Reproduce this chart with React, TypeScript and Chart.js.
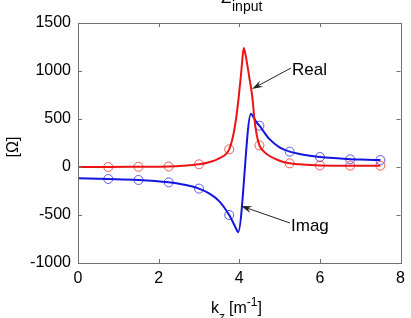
import React, { useEffect, useRef } from "react";
import { Chart, registerables } from "chart.js";

Chart.register(...registerables);

// Wavenumber samples for the smooth curves
const realX = [0, 0.75, 1.5, 2.25, 2.6, 3.0, 3.25, 3.5, 3.75, 3.85, 3.92, 3.98, 4.04, 4.07, 4.11, 4.15, 4.19, 4.25, 4.29, 4.33, 4.37, 4.43, 4.5, 4.6, 4.73, 5.0, 5.25, 5.5, 6.0, 6.75, 7.5];
const realY = [0, 0, 2, 5, 12, 28, 50, 90, 184, 330, 500, 705, 950, 1090, 1240, 1180, 1087, 930, 828, 705, 520, 340, 225, 165, 120, 65, 38, 28, 16, 14, 14];

const imagX = [0, 0.75, 1.5, 2.25, 2.6, 3.0, 3.25, 3.5, 3.75, 3.85, 3.92, 3.97, 4.29, 4.35, 4.42, 4.5, 4.75, 5.0, 5.25, 5.5, 5.75, 6.0, 6.5, 6.75, 7.0, 7.5];
const imagY = [-118, -125, -135, -160, -182, -225, -275, -355, -500, -580, -640, -680, 555, 520, 470, 430, 290, 205, 160, 135, 118, 104, 88, 80, 77, 72];

// Sampled points shown as open circles
const markerX = [0.75, 1.5, 2.25, 3.0, 3.75, 4.5, 5.25, 6.0, 6.75, 7.5];
const realMarkers = [0, 2, 5, 28, 184, 225, 38, 16, 14, 14];
const imagMarkers = [-125, -135, -160, -225, -500, 430, 160, 104, 80, 72];

const xTicks = [0, 2, 4, 6, 8];
const yTicks = [-1000, -500, 0, 500, 1000, 1500];

const FONT = "'Liberation Sans', Arial, sans-serif";
const RED = "rgb(235,20,20)";
const BLUE = "rgb(20,20,225)";
const AXIS = "#707070";

const pairs = (xs: number[], ys: number[]) => xs.map((x, i) => ({ x, y: ys[i] }));

function arrow(ctx: CanvasRenderingContext2D, x1: number, y1: number, x2: number, y2: number) {
  const ang = Math.atan2(y2 - y1, x2 - x1);
  const len = 11;
  const half = 3.5;
  ctx.save();
  ctx.strokeStyle = "#222";
  ctx.fillStyle = "#222";
  ctx.lineWidth = 1;
  ctx.beginPath();
  ctx.moveTo(x1, y1);
  ctx.lineTo(x2 - Math.cos(ang) * 6, y2 - Math.sin(ang) * 6);
  ctx.stroke();
  const bx = x2 - Math.cos(ang) * len;
  const by = y2 - Math.sin(ang) * len;
  const nx = -Math.sin(ang) * half;
  const ny = Math.cos(ang) * half;
  ctx.beginPath();
  ctx.moveTo(x2, y2);
  ctx.lineTo(bx + nx, by + ny);
  ctx.lineTo(x2 - Math.cos(ang) * 7, y2 - Math.sin(ang) * 7);
  ctx.lineTo(bx - nx, by - ny);
  ctx.closePath();
  ctx.fill();
  ctx.restore();
}

const decor = {
  id: "decor",
  afterDatasetsDraw(chart: any) {
    const { ctx, chartArea: a, scales } = chart;
    const xs = scales.x;
    const ys = scales.y;
    ctx.save();
    // axes box with inward ticks
    ctx.strokeStyle = AXIS;
    ctx.lineWidth = 1;
    ctx.strokeRect(Math.round(a.left) + 0.5, Math.round(a.top) + 0.5, Math.round(a.right - a.left), Math.round(a.bottom - a.top));
    ctx.beginPath();
    xTicks.forEach((t) => {
      const px = Math.round(xs.getPixelForValue(t)) + 0.5;
      ctx.moveTo(px, a.bottom);
      ctx.lineTo(px, a.bottom - 4);
      ctx.moveTo(px, a.top);
      ctx.lineTo(px, a.top + 4);
    });
    yTicks.forEach((t) => {
      const py = Math.round(ys.getPixelForValue(t)) + 0.5;
      ctx.moveTo(a.left, py);
      ctx.lineTo(a.left + 4, py);
      ctx.moveTo(a.right, py);
      ctx.lineTo(a.right - 4, py);
    });
    ctx.stroke();

    ctx.fillStyle = "#000";
    ctx.textBaseline = "alphabetic";
    ctx.textAlign = "left";

    // title Z_input
    ctx.font = `17px ${FONT}`;
    ctx.fillText("Z", 221, 3);
    ctx.font = `14px ${FONT}`;
    ctx.fillText("input", 232, 11);

    // x-axis label k_z [m^-1]
    let x = 211;
    ctx.font = `16px ${FONT}`;
    ctx.fillText("k", x, 313);
    x += ctx.measureText("k").width;
    ctx.font = `12px ${FONT}`;
    ctx.fillText("z", x, 321);
    x += ctx.measureText("z").width + 4;
    ctx.font = `16px ${FONT}`;
    ctx.fillText("[m", x, 313);
    x += ctx.measureText("[m").width;
    ctx.font = `12px ${FONT}`;
    ctx.fillText("-1", x, 306);
    x += ctx.measureText("-1").width;
    ctx.font = `16px ${FONT}`;
    ctx.fillText("]", x, 313);

    // y-axis label
    ctx.save();
    ctx.translate(18, 147);
    ctx.rotate(-Math.PI / 2);
    ctx.textAlign = "center";
    ctx.font = `16px ${FONT}`;
    ctx.fillText("[Ω]", 0, 0);
    ctx.restore();

    // annotations
    ctx.font = `17px ${FONT}`;
    ctx.fillText("Real", 292, 75);
    ctx.fillText("Imag", 291, 231);
    arrow(ctx, 291, 68, 252, 89);
    arrow(ctx, 290, 223, 241, 206);
    ctx.restore();
  },
};

export default function App() {
  const ref = useRef<HTMLCanvasElement>(null);

  useEffect(() => {
    document.body.style.margin = "0";
    const canvas = ref.current;
    if (!canvas) return;
    const tickFont = { family: FONT, size: 16 };
    const plain = (v: any) => String(v);
    const chart = new Chart(canvas, {
      type: "line",
      data: {
        datasets: [
          {
            label: "Real",
            data: pairs(realX, realY),
            borderColor: RED,
            borderWidth: 2,
            pointRadius: 0,
            cubicInterpolationMode: "monotone",
          },
          {
            label: "Imag",
            data: pairs(imagX, imagY),
            borderColor: BLUE,
            borderWidth: 2,
            pointRadius: 0,
            cubicInterpolationMode: "monotone",
          },
          {
            label: "Real samples",
            data: pairs(markerX, realMarkers),
            showLine: false,
            pointRadius: 4.5,
            pointBorderWidth: 1,
            pointBorderColor: "rgba(235,40,40,0.75)",
            pointBackgroundColor: "rgba(0,0,0,0)",
          },
          {
            label: "Imag samples",
            data: pairs(markerX, imagMarkers),
            showLine: false,
            pointRadius: 4.5,
            pointBorderWidth: 1,
            pointBorderColor: "rgba(40,40,225,0.75)",
            pointBackgroundColor: "rgba(0,0,0,0)",
          },
        ],
      },
      options: {
        responsive: false,
        animation: false,
        layout: { padding: { top: 23, right: 8, left: 0, bottom: 0 } },
        plugins: { legend: { display: false }, tooltip: { enabled: false }, title: { display: false } },
        scales: {
          x: {
            type: "linear",
            min: 0,
            max: 8,
            afterBuildTicks: (s: any) => {
              s.ticks = xTicks.map((v) => ({ value: v }));
            },
            ticks: { font: tickFont, color: "#000", padding: 6, maxRotation: 0, callback: plain },
            grid: { display: true, drawOnChartArea: false, drawTicks: false },
            border: { display: false },
            afterFit: (s: any) => {
              s.height = 55;
            },
          },
          y: {
            type: "linear",
            min: -1000,
            max: 1500,
            afterBuildTicks: (s: any) => {
              s.ticks = yTicks.map((v) => ({ value: v }));
            },
            ticks: { font: tickFont, color: "#000", padding: 7, callback: plain },
            grid: { display: true, drawOnChartArea: false, drawTicks: false },
            border: { display: false },
            afterFit: (s: any) => {
              s.width = 78;
            },
          },
        },
      },
      plugins: [decor],
    });
    return () => chart.destroy();
  }, []);

  return <canvas ref={ref} width={411} height={318} style={{ display: "block" }} />;
}
